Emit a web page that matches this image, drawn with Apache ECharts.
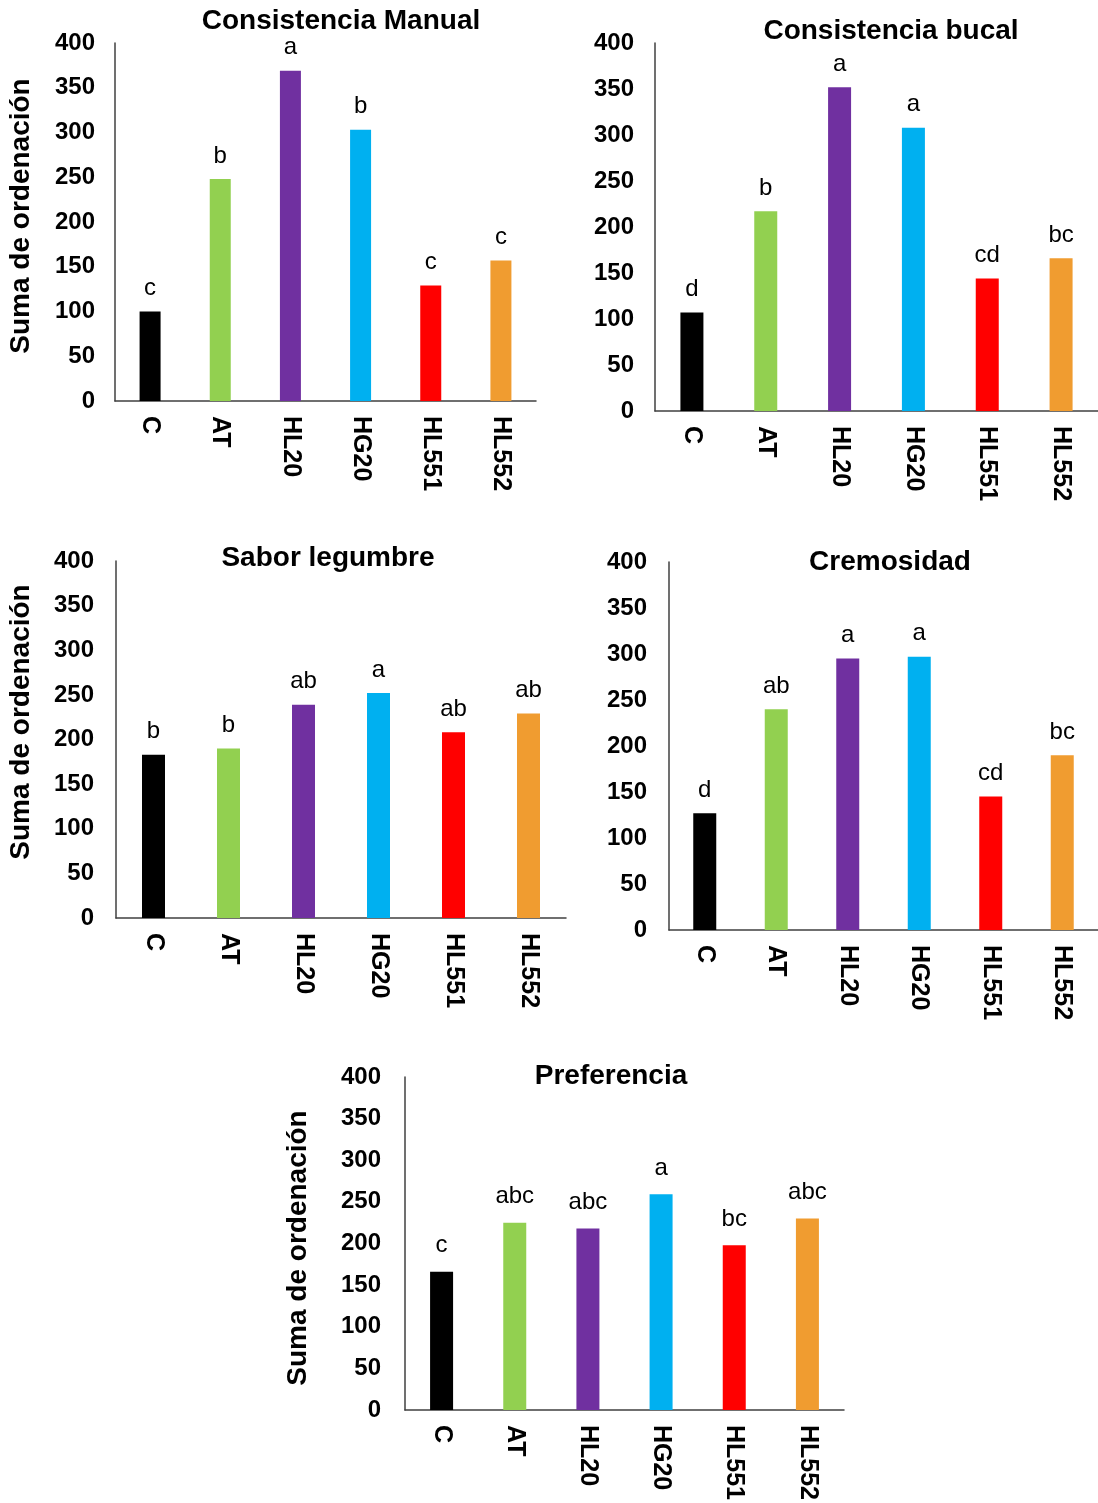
<!DOCTYPE html>
<html>
<head>
<meta charset="utf-8">
<script src="https://cdn.jsdelivr.net/npm/echarts@6/dist/echarts.min.js"></script>
<style>
html,body{margin:0;padding:0;background:#fff;}
#c{width:1098px;height:1503px;}
</style>
</head>
<body>
<div id="c"></div>
<script>
// ---- data ----
const categories = ['C', 'AT', 'HL20', 'HG20', 'HL551', 'HL552'];
const yTicks = [0, 50, 100, 150, 200, 250, 300, 350, 400];
const barColors = ['#000000', '#92D050', '#7030A0', '#00B0F0', '#FF0000', '#F09C30'];

const titles = ['Consistencia Manual', 'Consistencia bucal', 'Sabor legumbre', 'Cremosidad', 'Preferencia'];
const yAxisName = 'Suma de ordenación';

const consistenciaManual = [100, 248, 369, 303, 129, 157];
const consistenciaManualLetters = ['c', 'b', 'a', 'b', 'c', 'c'];

const consistenciaBucal = [107, 217, 352, 308, 144, 166];
const consistenciaBucalLetters = ['d', 'b', 'a', 'a', 'cd', 'bc'];

const saborLegumbre = [183, 190, 239, 252, 208, 229];
const saborLegumbreLetters = ['b', 'b', 'ab', 'a', 'ab', 'ab'];

const cremosidad = [127, 240, 295, 297, 145, 190];
const cremosidadLetters = ['d', 'ab', 'a', 'a', 'cd', 'bc'];

const preferencia = [166, 225, 218, 259, 198, 230];
const preferenciaLetters = ['c', 'abc', 'abc', 'a', 'bc', 'abc'];

const seriesValues = [consistenciaManual, consistenciaBucal, saborLegumbre, cremosidad, preferencia];
const seriesLetters = [consistenciaManualLetters, consistenciaBucalLetters, saborLegumbreLetters, cremosidadLetters, preferenciaLetters];

// ---- layout ----
const grids = [
  {left: 115, top: 43, width: 421, height: 358},
  {left: 655, top: 43, width: 443, height: 368},
  {left: 116, top: 561, width: 450, height: 357},
  {left: 669, top: 562, width: 429, height: 368},
  {left: 405, top: 1077, width: 439, height: 336}
];
const barWidths = [21, 23, 23, 23, 23];
const labelDist = [11, 11, 11, 11, 14];
const yLabelMargin = [20, 21, 22, 22, 24];
const titlePos = [[341, 21], [891, 31], [328, 558], [890, 562], [611, 1076]];
const yNamePos = [[21, 216], null, [21, 722], null, [298, 1248]];

const FONT = '"Liberation Sans", Arial, sans-serif';
const axisColor = '#404040';

const option = {
  animation: false,
  backgroundColor: '#ffffff',
  grid: grids.map(g => Object.assign({containLabel: false}, g)),
  xAxis: grids.map((g, i) => ({
    type: 'category',
    gridIndex: i,
    data: categories,
    axisLine: {show: true, lineStyle: {color: axisColor, width: 1.5}},
    axisTick: {show: false},
    axisLabel: {
      interval: 0, rotate: -90, margin: 15,
      color: '#000', fontFamily: FONT, fontWeight: 'bold', fontSize: 25
    },
    splitLine: {show: false}
  })),
  yAxis: grids.map((g, i) => ({
    type: 'value',
    gridIndex: i,
    min: yTicks[0], max: yTicks[yTicks.length - 1], interval: yTicks[1] - yTicks[0],
    axisLine: {show: true, lineStyle: {color: axisColor, width: 1.5}},
    axisTick: {show: false},
    splitLine: {show: false},
    axisLabel: {margin: yLabelMargin[i], color: '#000', fontFamily: FONT, fontWeight: 'bold', fontSize: 24}
  })),
  series: seriesValues.map((vals, i) => ({
    type: 'bar',
    xAxisIndex: i,
    yAxisIndex: i,
    barWidth: barWidths[i],
    data: vals.map((v, j) => ({value: v, itemStyle: {color: barColors[j]}})),
    label: {
      show: true,
      position: 'top',
      distance: labelDist[i],
      color: '#000',
      fontFamily: FONT,
      fontSize: 24,
      formatter: p => seriesLetters[i][p.dataIndex]
    }
  })),
  graphic: [].concat(
    titles.map((t, i) => ({
      type: 'text',
      x: titlePos[i][0], y: titlePos[i][1],
      style: {text: t, fill: '#000', font: 'bold 28px ' + FONT, align: 'center', verticalAlign: 'middle'}
    })),
    yNamePos.filter(p => p).map(p => ({
      type: 'text',
      x: p[0], y: p[1], rotation: Math.PI / 2,
      style: {text: yAxisName, fill: '#000', font: 'bold 28px ' + FONT, align: 'center', verticalAlign: 'middle'}
    }))
  )
};

const chart = echarts.init(document.getElementById('c'), null, {renderer: 'canvas'});
chart.setOption(option);
</script>
</body>
</html>
